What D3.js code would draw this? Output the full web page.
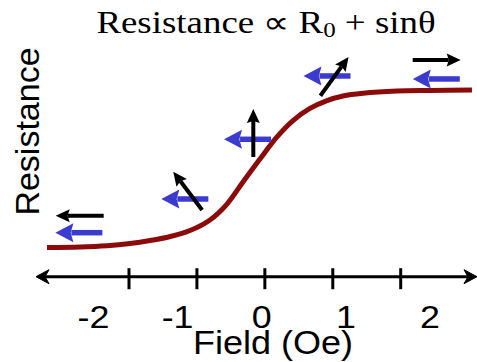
<!DOCTYPE html>
<html><head><meta charset="utf-8">
<script src="https://cdn.jsdelivr.net/npm/d3@7"></script>
<style>html,body{margin:0;padding:0;background:#fff;overflow:hidden}</style>
</head><body>
<script>
// curve data (field in Oe, normalized resistance)
const field = [-3.207, -2.721, -2.324, -1.985, -1.691, -1.391, -1.102, -0.808, -0.557, -0.322, -0.072, 0.179, 0.414, 0.664, 0.915, 1.151, 1.445, 1.945, 2.431, 3.049];
const resistance = [0.0, 0.003, 0.011, 0.025, 0.044, 0.070, 0.108, 0.175, 0.276, 0.416, 0.562, 0.702, 0.806, 0.883, 0.933, 0.962, 0.979, 0.993, 0.997, 1.0];
// axis
const tickValues = [-2, -1, 0, 1, 2];
const tickLabels = ["-2", "-1", "0", "1", "2"];
// magnetization arrows (blue = fixed layer, black = free layer)
const blueField = [-2.738, -1.178, -0.255, 0.915, 2.524];
const blueLevel = [0.094, 0.308, 0.687, 1.089, 1.07];
const blueAngle = [180, 180, 180, 180, 180];
const blackField = [-2.726, -1.136, -0.170, 1.025, 2.530];
const blackLevel = [0.202, 0.36, 0.727, 1.087, 1.19];
const blackAngle = [180, 127, 90, 54, 0];

const W = 477, H = 362;
const svg = d3.select("body").append("svg").attr("width", W).attr("height", H);

const x = d3.scaleLinear().domain([-2, 2]).range([129, 400.7]);
const xLabel = d3.scaleLinear().domain([-2, 2]).range([93.5, 430]);
const y = d3.scaleLinear().domain([0, 1]).range([247.5, 90]);
const axisY = 276.7;

// title
const title = svg.append("text")
  .attr("transform", "translate(266,33) scale(1.19,1)")
  .attr("text-anchor", "middle")
  .attr("font-family", "'Liberation Serif','Times New Roman',serif")
  .attr("font-size", 31).attr("fill", "#000");
title.append("tspan").text("Resistance \u221D R");
title.append("tspan").attr("font-size", 21).attr("dy", 4).text("0");
title.append("tspan").attr("dy", -4).text(" + sin\u03B8");

// y label
svg.append("text")
  .attr("transform", "translate(39,131.5) rotate(-90)")
  .attr("text-anchor", "middle")
  .attr("font-family", "'Liberation Sans',Arial,sans-serif")
  .attr("font-size", 34).attr("fill", "#000")
  .text("Resistance");

// axis line with arrowheads
const axG = svg.append("g");
axG.append("line")
  .attr("x1", 38).attr("x2", 474)
  .attr("y1", axisY).attr("y2", axisY)
  .attr("stroke", "#000").attr("stroke-width", 3);
function axisHead(tipX, dir) {
  const p = d3.path();
  p.moveTo(tipX, axisY);
  p.lineTo(tipX + dir * 13, axisY - 7);
  p.lineTo(tipX + dir * 9, axisY);
  p.lineTo(tipX + dir * 13, axisY + 7);
  p.closePath();
  axG.append("path").attr("d", p.toString()).attr("fill", "#000")
    .attr("stroke", "#000").attr("stroke-width", 1).attr("stroke-linejoin", "miter");
}
axisHead(36, 1);
axisHead(477, -1);

axG.selectAll("line.tick").data(tickValues).enter().append("line")
  .attr("class", "tick")
  .attr("x1", d => x(d)).attr("x2", d => x(d))
  .attr("y1", axisY - 8.5).attr("y2", axisY + 12.5)
  .attr("stroke", "#000").attr("stroke-width", 3);

axG.selectAll("text.tl").data(tickValues).enter().append("text")
  .attr("class", "tl")
  .attr("transform", d => `translate(${xLabel(d)},328) scale(1.12,1)`)
  .attr("text-anchor", "middle")
  .attr("font-family", "'Liberation Sans',Arial,sans-serif")
  .attr("font-size", 32).attr("fill", "#000")
  .text((d, i) => tickLabels[i]);

// x label
svg.append("text")
  .attr("transform", "translate(273,354) scale(1.06,1)")
  .attr("text-anchor", "middle")
  .attr("font-family", "'Liberation Sans',Arial,sans-serif")
  .attr("font-size", 34).attr("fill", "#000")
  .text("Field (Oe)");

// curve
const pts = field.map((f, i) => [f, resistance[i]]);
svg.append("path")
  .attr("d", d3.line().x(d => x(d[0])).y(d => y(d[1])).curve(d3.curveCatmullRom.alpha(0.5))(pts))
  .attr("fill", "none").attr("stroke", "#8b0a0a").attr("stroke-width", 5)
  .attr("stroke-linecap", "butt");

// arrows
function arrow(cx, cy, angleDeg, len, shaftW, headL, headW, color) {
  const a = angleDeg * Math.PI / 180;
  const ux = Math.cos(a), uy = -Math.sin(a);
  const tipX = cx + ux * len / 2, tipY = cy + uy * len / 2;
  const tailX = cx - ux * len / 2, tailY = cy - uy * len / 2;
  const bx = tipX - ux * headL, by = tipY - uy * headL;
  const nx = -uy, ny = ux;
  const g = svg.append("g");
  g.append("line")
    .attr("x1", tailX).attr("y1", tailY)
    .attr("x2", bx + ux * 2).attr("y2", by + uy * 2)
    .attr("stroke", color).attr("stroke-width", shaftW);
  const p = d3.path();
  p.moveTo(tipX, tipY);
  p.lineTo(bx + nx * headW / 2, by + ny * headW / 2);
  p.lineTo(bx + ux * headL * 0.15, by + uy * headL * 0.15);
  p.lineTo(bx - nx * headW / 2, by - ny * headW / 2);
  p.closePath();
  g.append("path").attr("d", p.toString()).attr("fill", color);
}
blueField.forEach((f, i) => arrow(x(f), y(blueLevel[i]), blueAngle[i], 47, 5.5, 18, 19, "#3b3bd0"));
blackField.forEach((f, i) => arrow(x(f), y(blackLevel[i]), blackAngle[i], 48, 4, 14, 13, "#000"));
</script>
</body></html>
